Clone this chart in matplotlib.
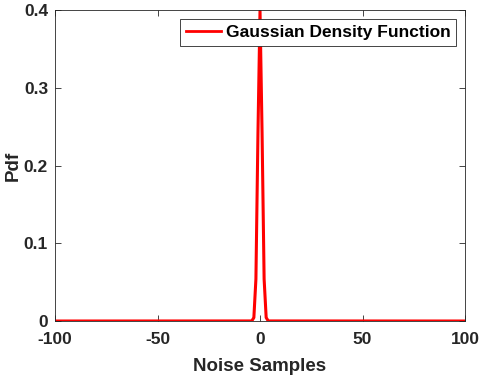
import matplotlib
matplotlib.use('Agg')
import matplotlib.pyplot as plt

# noise samples and pdf values
noise_x = [-100, -4, -3, -2, -1, 0, 1, 2, 3, 4, 100]
pdf_y = [0.0, 0.0001, 0.0044, 0.054, 0.242, 0.399, 0.242, 0.054, 0.0044, 0.0001, 0.0]

x_ticks = [-100, -50, 0, 50, 100]
y_ticks = [0, 0.1, 0.2, 0.3, 0.4]
y_labels = ['0', '0.1', '0.2', '0.3', '0.4']

plt.rcParams['font.family'] = ['Liberation Sans', 'DejaVu Sans']
plt.rcParams['font.weight'] = 'bold'
plt.rcParams['axes.unicode_minus'] = False

fig = plt.figure(figsize=(4.8, 3.77), dpi=100)
ax = fig.add_axes([0.1146, 0.1485, 0.8542, 0.825])

ax.plot(noise_x, pdf_y, color='red', linewidth=2.2, label='Gaussian Density Function')

ax.set_xlim(-100, 100)
ax.set_ylim(0, 0.4)
ax.set_xticks(x_ticks)
ax.set_yticks(y_ticks)
ax.set_yticklabels(y_labels)
ax.tick_params(direction='in', top=True, right=True, labelsize=12.5, colors='#262626',
               length=4, width=0.6)
ax.tick_params(axis='x', pad=8)
ax.tick_params(axis='y', pad=5)
for lab in ax.get_xticklabels() + ax.get_yticklabels():
    lab.set_fontweight('bold')
    lab.set_color('#262626')
for s in ax.spines.values():
    s.set_color('#262626')
    s.set_linewidth(0.6)

ax.set_xlabel('Noise Samples', fontsize=13.5, fontweight='bold', color='#262626', labelpad=8)
ax.set_ylabel('Pdf', fontsize=13.5, fontweight='bold', color='#262626')
ax.yaxis.set_label_coords(-0.08, 0.5)

leg = ax.legend(loc='upper right', prop={'weight': 'bold', 'size': 12.5},
                fancybox=False, framealpha=1, edgecolor='#262626', handlelength=2.0,
                handletextpad=0.25, borderaxespad=0.5, borderpad=0.35)
leg.get_frame().set_linewidth(0.6)
leg.get_lines()[0].set_linewidth(2.0)

fig.savefig('out.png', dpi=100)
